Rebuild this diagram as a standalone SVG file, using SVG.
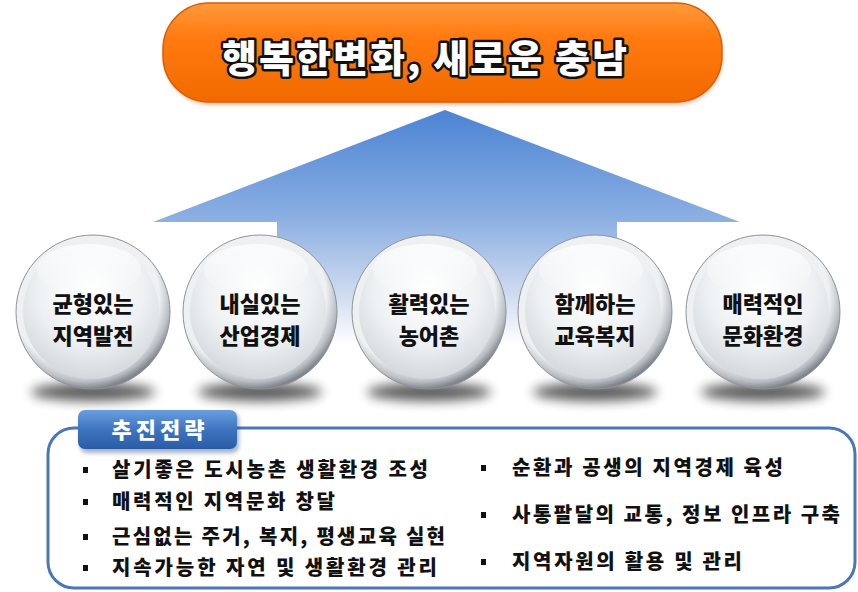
<svg xmlns="http://www.w3.org/2000/svg" width="858" height="592" viewBox="0 0 858 592">
<defs>
<style>
.ko{font-family:"Noto Sans CJK KR","Noto Sans CJK SC",sans-serif;font-weight:900;}
.title{font-size:38px;fill:#ffffff;stroke:#111;stroke-width:5;paint-order:stroke;stroke-linejoin:round;}
.ctext{font-size:22px;fill:#111;text-anchor:middle;}
.item{font-size:20px;fill:#111;}
.tag{font-size:22px;fill:#fff;text-anchor:middle;letter-spacing:4px;}
.bul{fill:#111;}
</style>
<linearGradient id="orange" x1="0" y1="0" x2="0" y2="1">
<stop offset="0" stop-color="#ff9a3a"/>
<stop offset="0.35" stop-color="#ff7a10"/>
<stop offset="1" stop-color="#f06a00"/>
</linearGradient>
<linearGradient id="arrowG" gradientUnits="userSpaceOnUse" x1="0" y1="110" x2="0" y2="345">
<stop offset="0" stop-color="#4c84d4"/>
<stop offset="0.45" stop-color="#8aaee2"/>
<stop offset="0.8" stop-color="#d2def0"/>
<stop offset="1" stop-color="#ffffff"/>
</linearGradient>
<radialGradient id="rim" cx="0.45" cy="0.4" r="0.6">
<stop offset="0.8" stop-color="#eef0f2"/>
<stop offset="0.92" stop-color="#b9bec3"/>
<stop offset="1" stop-color="#7d848b"/>
</radialGradient>
<radialGradient id="disc" cx="0.5" cy="0.35" r="0.65">
<stop offset="0" stop-color="#ffffff"/>
<stop offset="0.6" stop-color="#eef1f3"/>
<stop offset="1" stop-color="#d3d8dc"/>
</radialGradient>
<linearGradient id="gloss" x1="0" y1="0" x2="0" y2="1">
<stop offset="0" stop-color="#ffffff" stop-opacity="0.9"/>
<stop offset="1" stop-color="#ffffff" stop-opacity="0"/>
</linearGradient>
<linearGradient id="tagG" x1="0" y1="0" x2="0" y2="1">
<stop offset="0" stop-color="#6a9ee0"/>
<stop offset="0.5" stop-color="#3e74c0"/>
<stop offset="1" stop-color="#2a5ca6"/>
</linearGradient>
<filter id="blur" x="-50%" y="-100%" width="200%" height="300%">
<feGaussianBlur stdDeviation="6"/>
</filter>
<filter id="tshadow" x="-10%" y="-10%" width="120%" height="130%">
<feGaussianBlur stdDeviation="2"/>
</filter>
<g id="orb">
<ellipse cx="0" cy="80" rx="62" ry="9" fill="#000" opacity="0.65" filter="url(#blur)"/>
<circle cx="0" cy="0" r="77" fill="url(#rim)" stroke="#8d9399" stroke-width="1"/>
<circle cx="-2" cy="-1" r="68" fill="url(#disc)"/>
<ellipse cx="-4" cy="-42" rx="52" ry="26" fill="url(#gloss)" opacity="0.8"/>
</g>
</defs>
<rect width="858" height="592" fill="#ffffff"/>

<g id="arrow">
<polygon points="445,110 740,222 617,222 617,345 277,345 277,222 153,222" fill="url(#arrowG)"/>
</g>

<g id="title">
<rect x="165" y="7" width="557" height="98" rx="46" fill="#c85000" opacity="0.35" filter="url(#tshadow)"/>
<rect x="163" y="3" width="559" height="99" rx="46" fill="url(#orange)" stroke="#e05a00" stroke-width="1.5"/>
<text class="ko title" x="222" y="72" textLength="405" lengthAdjust="spacing">행복한변화, 새로운 충남</text>
</g>

<g id="n1">
<use href="#orb" x="93" y="312"/>
<text class="ko ctext" x="93" y="312">균형있는</text>
<text class="ko ctext" x="93" y="344">지역발전</text>
</g>
<g id="n2">
<use href="#orb" x="260" y="312"/>
<text class="ko ctext" x="260" y="312">내실있는</text>
<text class="ko ctext" x="260" y="344">산업경제</text>
</g>
<g id="n3">
<use href="#orb" x="429" y="312"/>
<text class="ko ctext" x="429" y="312">활력있는</text>
<text class="ko ctext" x="429" y="344">농어촌</text>
</g>
<g id="n4">
<use href="#orb" x="595" y="312"/>
<text class="ko ctext" x="595" y="312">함께하는</text>
<text class="ko ctext" x="595" y="344">교육복지</text>
</g>
<g id="n5">
<use href="#orb" x="763" y="312"/>
<text class="ko ctext" x="763" y="312">매력적인</text>
<text class="ko ctext" x="763" y="344">문화환경</text>
</g>

<g id="strategy">
<rect x="48" y="428" width="807" height="160" rx="26" fill="#ffffff" stroke="#4a78b6" stroke-width="3"/>
<rect x="80" y="413" width="159" height="40" rx="7" fill="#1e3f70" opacity="0.4" filter="url(#tshadow)"/>
<rect x="78" y="410" width="159" height="39" rx="7" fill="url(#tagG)"/>
<text class="ko tag" x="160" y="438">추진전략</text>

<rect class="bul" x="83" y="467" width="5" height="6"/>
<rect class="bul" x="83" y="499" width="5" height="6"/>
<rect class="bul" x="83" y="534" width="5" height="6"/>
<rect class="bul" x="83" y="565" width="5" height="6"/>
<text class="ko item" x="112" y="477" textLength="316" lengthAdjust="spacing">살기좋은 도시농촌 생활환경 조성</text>
<text class="ko item" x="112" y="509" textLength="223" lengthAdjust="spacing">매력적인 지역문화 창달</text>
<text class="ko item" x="112" y="544" textLength="333" lengthAdjust="spacing">근심없는 주거, 복지, 평생교육 실현</text>
<text class="ko item" x="112" y="575" textLength="325" lengthAdjust="spacing">지속가능한 자연 및 생활환경 관리</text>

<rect class="bul" x="481" y="465" width="5" height="6"/>
<rect class="bul" x="481" y="512" width="5" height="6"/>
<rect class="bul" x="481" y="559" width="5" height="6"/>
<text class="ko item" x="512" y="475" textLength="271" lengthAdjust="spacing">순환과 공생의 지역경제 육성</text>
<text class="ko item" x="512" y="522" textLength="328" lengthAdjust="spacing">사통팔달의 교통, 정보 인프라 구축</text>
<text class="ko item" x="512" y="569" textLength="230" lengthAdjust="spacing">지역자원의 활용 및 관리</text>
</g>
</svg>
